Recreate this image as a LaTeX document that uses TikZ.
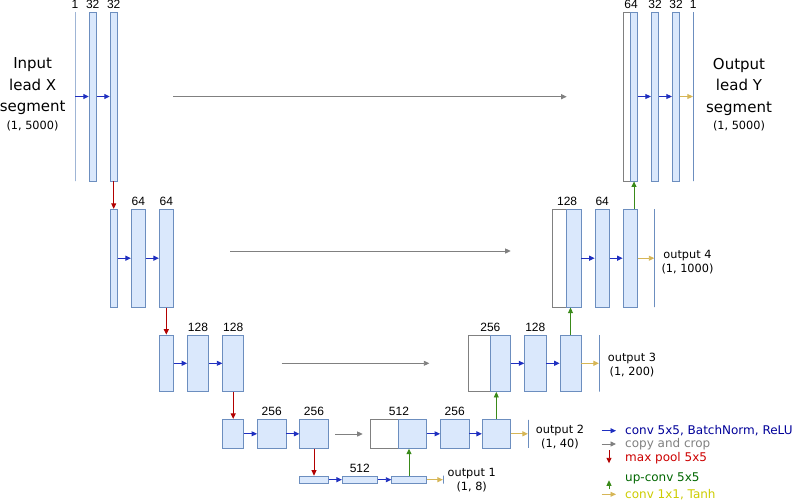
\documentclass[tikz,border=0pt]{standalone}
\usepackage{fontspec}
\setmainfont{DejaVu Sans}
\newfontfamily\numfont{Liberation Sans}
\usepackage{xcolor}
\usetikzlibrary{positioning,arrows.meta}

\definecolor{mapfill}{HTML}{DAE8FC}
\definecolor{mapdraw}{HTML}{6C8EBF}
\definecolor{cpdraw}{HTML}{808080}
\definecolor{convc}{HTML}{1F2FC0}
\definecolor{poolc}{HTML}{B20000}
\definecolor{upc}{HTML}{3A8A1A}
\definecolor{finc}{HTML}{D6B656}
\definecolor{lgblue}{HTML}{000099}
\definecolor{lgred}{HTML}{CC0000}
\definecolor{lggreen}{HTML}{006600}
\definecolor{lgyellow}{HTML}{CCCC00}

\tikzset{
  fmap/.style={draw=mapdraw, fill=mapfill, line width=0.8pt, inner sep=0pt},
  cmap/.style={draw=cpdraw, fill=white, line width=0.8pt, inner sep=0pt},
  oline/.style={draw=mapdraw, line width=0.8pt, inner sep=0pt, minimum width=0pt},
  num/.style={font=\numfont\fontsize{12}{12}\selectfont, inner sep=0pt},
  otxt/.style={font=\fontsize{11.3}{14}\selectfont, align=center, inner sep=0pt},
  bigtxt/.style={font=\fontsize{15}{21.5}\selectfont, align=center, inner sep=0pt},
  lgd/.style={font=\fontsize{12}{12}\selectfont, anchor=west, inner sep=0pt},
  tip/.style={-{Triangle[length=5.5pt,width=5pt]}, line width=0.9pt},
  conv/.style={tip, draw=convc},
  copyc/.style={tip, draw=cpdraw},
  pool/.style={tip, draw=poolc},
  upconv/.style={tip, draw=upc},
  final/.style={tip, draw=finc}
}
\newcommand{\fmap}[4]{\node [fmap, minimum width=#3pt, minimum height=#4pt] (#1) at (#2) {}}
\newcommand{\cmap}[4]{\node [cmap, minimum width=#3pt, minimum height=#4pt] (#1) at (#2) {}}

\begin{document}
\begin{tikzpicture}[x=1pt, y=-1pt]
\useasboundingbox (0,0) rectangle (797,501);

% contracting path
\node [oline, minimum height=169pt] (inl) at (75,96.5) {};
\fmap{e1a}{92.7,96.5}{7}{169};
\fmap{e1b}{113.7,96.5}{7}{169};

\fmap{e2a}{113.7,258.2}{7}{98};
\fmap{e2b}{138.3,258.2}{14}{98};
\fmap{e2c}{166.3,258.2}{14}{98};

\fmap{e3a}{166.3,363.3}{14}{56.5};
\fmap{e3b}{198,363.3}{21}{56.5};
\fmap{e3c}{233.2,363.3}{21}{56.5};

\fmap{e4a}{233.2,433.8}{21}{29};
\fmap{e4b}{271.7,433.8}{28.5}{29};
\fmap{e4c}{314,433.8}{28.5}{29};

\fmap{b5a}{314,479.7}{28.5}{7.3};
\fmap{b5b}{359.8,479.7}{35}{7.3};
\fmap{b5c}{409,479.7}{34.6}{7.3};
\node [oline, minimum height=8pt] (o1l) at (443.3,479.7) {};

% expanding path
\cmap{d4w}{384.3,433.8}{28.5}{29};
\fmap{d4a}{412.5,433.8}{27.6}{29};
\fmap{d4b}{454.7,433.8}{28.5}{29};
\fmap{d4c}{496.3,433.8}{28}{29};
\node [oline, minimum height=28pt] (o2l) at (528.3,433.8) {};

\cmap{d3w}{479.3,363.3}{21.3}{56.5};
\fmap{d3a}{500.3,363.3}{20.7}{56.5};
\fmap{d3b}{535.3,363.3}{21.3}{56.5};
\fmap{d3c}{570.5,363.3}{21}{56.5};
\node [oline, minimum height=56.5pt] (o3l) at (599.3,363.3) {};

\cmap{d2w}{559.7,258.2}{14}{98};
\fmap{d2a}{573.8,258.2}{14.3}{98};
\fmap{d2b}{602.2,258.2}{14.3}{98};
\fmap{d2c}{630.2,258.2}{14.3}{98};
\node [oline, minimum height=98pt] (o4l) at (654.7,258.2) {};

\cmap{d1w}{627,96.5}{7.4}{169};
\fmap{d1a}{634,96.5}{6.6}{169};
\fmap{d1b}{655,96.5}{7.4}{169};
\fmap{d1c}{676,96.5}{7.4}{169};
\node [oline, minimum height=169pt] (outl) at (693.3,96.5) {};

% channel counts
\node [num, above=3pt of inl] (ninl) {1};
\node [num, above=3pt of e1a] (ne1a) {32};
\node [num, above=3pt of e1b] (ne1b) {32};
\node [num, above=3pt of e2b] (ne2b) {64};
\node [num, above=3pt of e2c] (ne2c) {64};
\node [num, above=3pt of e3b] (ne3b) {128};
\node [num, above=3pt of e3c] (ne3c) {128};
\node [num, above=3pt of e4b] (ne4b) {256};
\node [num, above=3pt of e4c] (ne4c) {256};
\node [num, above=3pt of b5b] (nb5b) {512};
\node [num, above=3pt of d4w.north east] (nd4w) {512};
\node [num, above=3pt of d4b] (nd4b) {256};
\node [num, above=3pt of d3w.north east] (nd3w) {256};
\node [num, above=3pt of d3b] (nd3b) {128};
\node [num, above=3pt of d2w.north east] (nd2w) {128};
\node [num, above=3pt of d2b] (nd2b) {64};
\node [num, above=3pt of d1w.north east] (nd1w) {64};
\node [num, above=3pt of d1b] (nd1b) {32};
\node [num, above=3pt of d1c] (nd1c) {32};
\node [num, above=3pt of outl] (noutl) {1};

% texts
\node [bigtxt] (inp) at (32.7,86.5) {Input\\lead X\\segment};
\node [otxt] (insz) at (32.5,126) {(1, 5000)};
\node [bigtxt] (outp) at (739,86.5) {Output\\lead Y\\segment};
\node [otxt] (outsz) at (739,126) {(1, 5000)};
\node [otxt] (t4) at (687.5,262.5) {output 4\\(1, 1000)};
\node [otxt] (t3) at (632,364.7) {output 3\\(1, 200)};
\node [otxt] (t2) at (560,437.5) {output 2\\(1, 40)};
\node [otxt] (t1) at (471.7,480.5) {output 1\\(1, 8)};

% conv arrows
\draw [conv] (inl) -- (e1a);
\draw [conv] (e1a) -- (e1b);
\draw [conv] (e2a) -- (e2b);
\draw [conv] (e2b) -- (e2c);
\draw [conv] (e3a) -- (e3b);
\draw [conv] (e3b) -- (e3c);
\draw [conv] (e4a) -- (e4b);
\draw [conv] (e4b) -- (e4c);
\draw [conv] (b5a) -- (b5b);
\draw [conv] (b5b) -- (b5c);
\draw [conv] (d4a) -- (d4b);
\draw [conv] (d4b) -- (d4c);
\draw [conv] (d3a) -- (d3b);
\draw [conv] (d3b) -- (d3c);
\draw [conv] (d2a) -- (d2b);
\draw [conv] (d2b) -- (d2c);
\draw [conv] (d1a) -- (d1b);
\draw [conv] (d1b) -- (d1c);

% max pool
\draw [pool] (e1b) -- (e2a);
\draw [pool] (e2c) -- (e3a);
\draw [pool] (e3c) -- (e4a);
\draw [pool] (e4c) -- (b5a);

% up-conv
\draw [upconv] (b5c) -- (b5c |- d4a.south);
\draw [upconv] (d4c) -- (d4c |- d3a.south);
\draw [upconv] (d3c) -- (d3c |- d2a.south);
\draw [upconv] (d1a |- d2c.north) -- (d1a);

% 1x1 outputs
\draw [final] (d1c) -- (outl);
\draw [final] (d2c) -- (o4l);
\draw [final] (d3c) -- (o3l);
\draw [final] (d4c) -- (o2l);
\draw [final] (b5c) -- (o1l);

% copy and crop
\coordinate (c1a) at (173.3,96.7);
\coordinate (c1b) at (566.7,96.7);
\coordinate (c2a) at (230,251);
\coordinate (c2b) at (510.7,251);
\coordinate (c3a) at (281.7,363.3);
\coordinate (c3b) at (429.3,363.3);
\coordinate (c4a) at (335,434);
\coordinate (c4b) at (362.7,434);
\draw [copyc] (c1a) -- (c1b);
\draw [copyc] (c2a) -- (c2b);
\draw [copyc] (c3a) -- (c3b);
\draw [copyc] (c4a) -- (c4b);

% legend
\node [lgd, text=lgblue] (lg1) at (625,430.7) {conv 5x5, BatchNorm, ReLU};
\node [lgd, text=cpdraw] (lg2) at (625,444) {copy and crop};
\node [lgd, text=lgred] (lg3) at (625,458.3) {max pool 5x5};
\node [lgd, text=lggreen] (lg4) at (625,478.3) {up-conv 5x5};
\node [lgd, text=lgyellow] (lg5) at (625,494.3) {conv 1x1, Tanh};
\draw [conv] ([xshift=-23.3pt]lg1.west) -- ([xshift=-9pt]lg1.west);
\draw [copyc] ([xshift=-23.3pt]lg2.west) -- ([xshift=-9pt]lg2.west);
\draw [pool] ([xshift=-16pt,yshift=8pt]lg3.west) -- ([xshift=-16pt,yshift=-5pt]lg3.west);
\draw [upconv] ([xshift=-16pt,yshift=-11pt]lg4.west) -- ([xshift=-16pt,yshift=-2pt]lg4.west);
\draw [final] ([xshift=-23.3pt]lg5.west) -- ([xshift=-9pt]lg5.west);

\end{tikzpicture}
\end{document}
